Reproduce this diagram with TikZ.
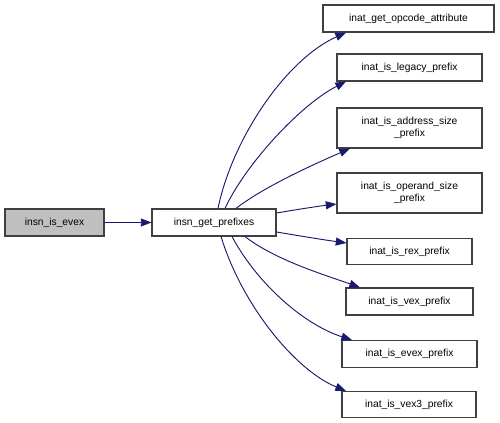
\documentclass[tikz,border=0pt]{standalone}
\usepackage{fontspec}
\setmainfont{Liberation Sans}
\usetikzlibrary{arrows.meta}
\definecolor{edgeblue}{HTML}{191970}
\definecolor{boxline}{HTML}{404040}
\definecolor{grayfill}{HTML}{BFBFBF}
\tikzset{
  fn/.style={draw=boxline, line width=0.8pt, fill=white, inner sep=0pt, align=center,
    font=\fontsize{7.7}{8.8}\selectfont, text=black},
  edge/.style={draw=edgeblue, line width=0.7pt, -{Triangle[length=8pt,width=6pt]}},
}
\begin{document}
\begin{tikzpicture}[x=0.75pt,y=-0.75pt]
\useasboundingbox (0,0) rectangle (500,423);
\node[fn, fill=grayfill, minimum width=99*0.75pt, minimum height=27*0.75pt] (ie) at (54.5,222.5) {insn\_is\_evex};
\node[fn, minimum width=124*0.75pt, minimum height=27*0.75pt] (gp) at (214,222.5) {insn\_get\_prefixes};
\node[fn, minimum width=171*0.75pt, minimum height=27*0.75pt] (t1) at (408.5,18.5) {inat\_get\_opcode\_attribute};
\node[fn, minimum width=145*0.75pt, minimum height=27*0.75pt] (t2) at (409.5,67.5) {inat\_is\_legacy\_prefix};
\node[fn, minimum width=145*0.75pt, minimum height=40*0.75pt] (t3) at (409.5,128) {inat\_is\_address\_size\\\_prefix};
\node[fn, minimum width=145*0.75pt, minimum height=40*0.75pt] (t4) at (409.5,193) {inat\_is\_operand\_size\\\_prefix};
\node[fn, minimum width=125*0.75pt, minimum height=26*0.75pt] (t5) at (409.5,251.5) {inat\_is\_rex\_prefix};
\node[fn, minimum width=127*0.75pt, minimum height=27*0.75pt] (t6) at (409.5,301.5) {inat\_is\_vex\_prefix};
\node[fn, minimum width=135*0.75pt, minimum height=27*0.75pt] (t7) at (409.5,354) {inat\_is\_evex\_prefix};
\node[fn, minimum width=134*0.75pt, minimum height=26*0.75pt] (t8) at (409,404.5) {inat\_is\_vex3\_prefix};

\draw[edge] (ie) -- (gp);
\draw[edge] (gp.north -| 218,0) .. controls (232,140) and (285,60) .. (t1.south west -| 346,0);
\draw[edge] (gp.north -| 225,0) .. controls (245,165) and (300,105) .. (t2.south west -| 346,0);
\draw[edge] (gp.north -| 236,0) .. controls (262,188) and (312,165) .. (t3.south west -| 350,0);
\draw[edge] (gp.east |- 0,213) .. controls (300,209) and (320,206) .. (t4.west |- 0,204);
\draw[edge] (gp.east |- 0,232) .. controls (300,236) and (325,240) .. (t5.west |- 0,243);
\draw[edge] (gp.south -| 245,0) .. controls (275,260) and (325,275) .. (t6.north west -| 360,0);
\draw[edge] (gp.south -| 232,0) .. controls (258,285) and (305,325) .. (t7.north west -| 352,0);
\draw[edge] (gp.south -| 221,0) .. controls (242,305) and (295,370) .. (t8.north west -| 346,0);
\end{tikzpicture}
\end{document}
